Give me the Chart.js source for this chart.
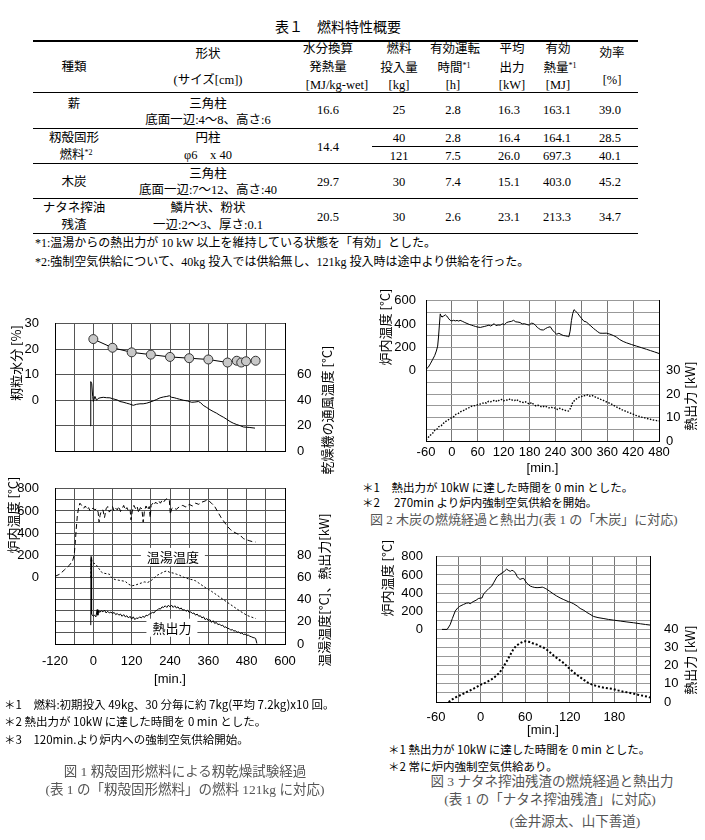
<!DOCTYPE html>
<html lang="ja">
<head>
<meta charset="utf-8">
<script src="https://cdn.jsdelivr.net/npm/chart.js@4.4.0/dist/chart.umd.min.js"></script>
<style>
  body { margin: 0; background: #fff; }
  #page { position: relative; width: 705px; height: 840px; overflow: hidden; color: #000; }
  .tb { font-family: "Liberation Serif", "Noto Sans CJK JP", serif; font-size: 12.5px; }
  .c { position: absolute; transform: translate(-50%, -50%); white-space: nowrap; line-height: 1; }
  .l { position: absolute; transform: translateY(-50%); white-space: nowrap; line-height: 1; }
  .rule { position: absolute; height: 0; border-top: 1.5px solid #000; }
  .note { font-family: "Noto Sans CJK JP", sans-serif; font-size: 11.5px; }
  .cap { font-family: "Liberation Serif", "Noto Sans CJK JP", serif; font-size: 13.5px; color: #555; }
  sup { font-size: 8px; vertical-align: 4px; }
  canvas { position: absolute; }
</style>
</head>
<body>
<div id="page">
  <!-- 表1 -->
  <div class="tb">
    <div class="l" style="left:275px;top:28px;font-size:14px">表１　燃料特性概要</div>
    <div class="rule" style="left:33px;width:605px;top:40px;border-top-width:2px"></div>
    <div class="rule" style="left:33px;width:605px;top:92px"></div>
    <div class="rule" style="left:33px;width:605px;top:128px"></div>
    <div class="rule" style="left:372px;width:266px;top:146px;border-top-width:1px"></div>
    <div class="rule" style="left:33px;width:605px;top:163px"></div>
    <div class="rule" style="left:33px;width:605px;top:198px"></div>
    <div class="rule" style="left:33px;width:605px;top:233px"></div>

    <div class="c" style="left:74px;top:67px">種類</div>
    <div class="c" style="left:208px;top:54px">形状</div>
    <div class="c" style="left:208px;top:80px">(サイズ[cm])</div>
    <div class="c" style="left:328px;top:49px">水分換算</div>
    <div class="c" style="left:328px;top:67px">発熱量</div>
    <div class="c" style="left:337px;top:85px">[MJ/kg-wet]</div>
    <div class="c" style="left:399px;top:49px">燃料</div>
    <div class="c" style="left:399px;top:68px">投入量</div>
    <div class="c" style="left:399px;top:85px">[kg]</div>
    <div class="c" style="left:455px;top:49px">有効運転</div>
    <div class="c" style="left:454px;top:68px">時間<sup>*1</sup></div>
    <div class="c" style="left:453px;top:85px">[h]</div>
    <div class="c" style="left:512px;top:49px">平均</div>
    <div class="c" style="left:512px;top:68px">出力</div>
    <div class="c" style="left:512px;top:85px">[kW]</div>
    <div class="c" style="left:558px;top:49px">有効</div>
    <div class="c" style="left:560px;top:68px">熱量<sup>*1</sup></div>
    <div class="c" style="left:558px;top:85px">[MJ]</div>
    <div class="c" style="left:612px;top:53px">効率</div>
    <div class="c" style="left:612px;top:80px">[%]</div>

    <div class="c" style="left:74px;top:104px">薪</div>
    <div class="c" style="left:208px;top:104px">三角柱</div>
    <div class="c" style="left:208px;top:120px">底面一辺:4～8、高さ:6</div>
    <div class="c" style="left:328px;top:110px">16.6</div>
    <div class="c" style="left:399px;top:110px">25</div>
    <div class="c" style="left:453px;top:110px">2.8</div>
    <div class="c" style="left:509px;top:110px">16.3</div>
    <div class="c" style="left:557px;top:110px">163.1</div>
    <div class="c" style="left:610px;top:110px">39.0</div>

    <div class="c" style="left:74px;top:138px">籾殻固形</div>
    <div class="c" style="left:76px;top:155px">燃料<sup>*2</sup></div>
    <div class="c" style="left:208px;top:138px">円柱</div>
    <div class="c" style="left:208px;top:155px">φ6　x 40</div>
    <div class="c" style="left:328px;top:147px">14.4</div>
    <div class="c" style="left:399px;top:138px">40</div>
    <div class="c" style="left:453px;top:138px">2.8</div>
    <div class="c" style="left:509px;top:138px">16.4</div>
    <div class="c" style="left:557px;top:138px">164.1</div>
    <div class="c" style="left:610px;top:138px">28.5</div>
    <div class="c" style="left:399px;top:156px">121</div>
    <div class="c" style="left:453px;top:156px">7.5</div>
    <div class="c" style="left:509px;top:156px">26.0</div>
    <div class="c" style="left:557px;top:156px">697.3</div>
    <div class="c" style="left:610px;top:156px">40.1</div>

    <div class="c" style="left:74px;top:182px">木炭</div>
    <div class="c" style="left:208px;top:174px">三角柱</div>
    <div class="c" style="left:208px;top:190px">底面一辺:7～12、高さ:40</div>
    <div class="c" style="left:328px;top:182px">29.7</div>
    <div class="c" style="left:399px;top:182px">30</div>
    <div class="c" style="left:453px;top:182px">7.4</div>
    <div class="c" style="left:509px;top:182px">15.1</div>
    <div class="c" style="left:557px;top:182px">403.0</div>
    <div class="c" style="left:610px;top:182px">45.2</div>

    <div class="c" style="left:74px;top:208px">ナタネ搾油</div>
    <div class="c" style="left:74px;top:225px">残渣</div>
    <div class="c" style="left:208px;top:208px">鱗片状、粉状</div>
    <div class="c" style="left:208px;top:225px">一辺:2～3、厚さ:0.1</div>
    <div class="c" style="left:328px;top:217px">20.5</div>
    <div class="c" style="left:399px;top:217px">30</div>
    <div class="c" style="left:453px;top:217px">2.6</div>
    <div class="c" style="left:509px;top:217px">23.1</div>
    <div class="c" style="left:557px;top:217px">213.3</div>
    <div class="c" style="left:610px;top:217px">34.7</div>

    <div class="l" style="left:35px;top:243px;font-size:12px">*1:温湯からの熱出力が 10 kW 以上を維持している状態を「有効」とした。</div>
    <div class="l" style="left:35px;top:262px;font-size:12px">*2:強制空気供給について、40kg 投入では供給無し、121kg 投入時は途中より供給を行った。</div>
  </div>

  <canvas id="c1a" width="345" height="175" style="left:0;top:300px"></canvas>
  <canvas id="c1b" width="345" height="222" style="left:0;top:465px"></canvas>
  <canvas id="c2" width="345" height="193" style="left:360px;top:283px"></canvas>
  <canvas id="c3" width="345" height="203" style="left:360px;top:535px"></canvas>

  <div class="note">
    <div class="l" style="left:4px;top:705px">＊1　燃料:初期投入 49kg、30 分毎に約 7kg(平均 7.2kg)x10 回。</div>
    <div class="l" style="left:4px;top:722px">＊2  熱出力が 10kW に達した時間を 0 min とした。</div>
    <div class="l" style="left:4px;top:740px">＊3　120min.より炉内への強制空気供給開始。</div>
    <div class="l" style="left:362px;top:488px">＊1　熱出力が 10kW に達した時間を 0 min とした。</div>
    <div class="l" style="left:362px;top:503px">＊2　 270min  より炉内強制空気供給を開始。</div>
    <div class="l" style="left:388px;top:750px">＊1  熱出力が 10kW に達した時間を 0 min とした。</div>
    <div class="l" style="left:388px;top:767px">＊2  常に炉内強制空気供給あり。</div>
  </div>
  <div class="cap">
    <div class="c" style="left:185px;top:772px">図 1  籾殻固形燃料による籾乾燥試験経過</div>
    <div class="c" style="left:185px;top:790px">(表 1 の「籾殻固形燃料」の燃料 121kg に対応)</div>
    <div class="l" style="left:370px;top:519px;font-size:13px">図 2 木炭の燃焼経過と熱出力(表 1 の「木炭」に対応)</div>
    <div class="c" style="left:552px;top:782px">図 3  ナタネ搾油残渣の燃焼経過と熱出力</div>
    <div class="c" style="left:550px;top:800px">(表 1 の「ナタネ搾油残渣」に対応)</div>
    <div class="c" style="left:575px;top:822px">(金井源太、山下善道)</div>
  </div>
</div>

<script>
// ---- 図1 上段: 籾粒水分 [%] と 乾燥機の通風温度 [°C]  ([min., 値])
const fig1Moist = [[0, 24], [60, 20.6], [120, 18.8], [180, 17.9], [240, 17.0], [300, 16.5],
  [360, 16.0], [420, 14.8], [449, 15.5], [463, 14.8], [478, 15.3], [508, 15.5]];
const fig1Air = [[-10, 20], [-8, 54.6], [-5, 53], [-2, 43], [0, 39], [5, 43], [10, 40], [15, 41.4],
  [21, 41.9], [31, 42.3], [41, 42], [52, 41.9], [60, 41.2], [68, 40.7], [75, 40.2], [83, 39],
  [93, 38.5], [104, 37.7], [114, 37], [125, 36], [135, 36.8], [146, 37.2], [156, 37.2], [167, 37.7],
  [178, 38.6], [188, 39.5], [198, 40.6], [209, 41.9], [220, 42.6], [230, 43], [238, 43.5], [245, 42.3],
  [253, 42], [261, 41.4], [270, 40.8], [282, 40], [295, 39.4], [308, 38.4], [318, 38.6], [329, 39],
  [336, 38], [344, 36], [355, 34.3], [365, 32.6], [375, 31.2], [386, 29.8], [396, 28.2], [407, 26.7],
  [418, 25], [428, 23.3], [438, 22], [449, 20.9], [460, 20], [470, 19], [480, 18.8], [490, 18.6],
  [500, 18.3], [506, 18.1]];

// ---- 図1 下段: 炉内温度 [°C], 温湯温度 [°C], 熱出力 [kW]
const fig1Furnace = [[-120, 10], [-105, 30], [-90, 70], [-75, 110], [-65, 150], [-60, 200], [-57, 300],
  [-54, 420], [-50, 560], [-46, 630], [-42, 670], [-38, 655], [-34, 640], [-30, 625], [-25, 645],
  [-20, 615], [-15, 630], [-10, 600], [-5, 620], [0, 625], [5, 610], [10, 620], [15, 590], [18, 500],
  [21, 560], [25, 600], [30, 610], [35, 540], [40, 620], [45, 640], [50, 590], [55, 610], [60, 640],
  [65, 600], [70, 625], [75, 610], [80, 640], [85, 595], [90, 620], [95, 650], [100, 610], [105, 630],
  [110, 600], [115, 615], [118, 520], [122, 600], [127, 650], [132, 620], [137, 640], [142, 585],
  [147, 630], [152, 620], [156, 500], [160, 600], [165, 645], [170, 610], [175, 640], [178, 540],
  [181, 650], [186, 670], [190, 655], [195, 680], [200, 665], [205, 690], [210, 670], [215, 695],
  [220, 680], [225, 700], [230, 710], [235, 690], [238, 695], [241, 570], [245, 620], [250, 630],
  [260, 615], [270, 640], [280, 650], [290, 635], [300, 660], [310, 645], [320, 670], [330, 660],
  [340, 680], [350, 690], [356, 700], [362, 690], [370, 670], [380, 640], [390, 590], [400, 540],
  [410, 500], [420, 460], [430, 430], [440, 410], [450, 395], [460, 380], [470, 350], [480, 340],
  [490, 330], [500, 322], [508, 320]];
const fig1Water = [[-8, 60], [-7, 79], [-4, 74], [0, 73], [5, 72.5], [10, 71], [15, 69], [20, 67],
  [25, 65], [30, 64], [40, 63.5], [50, 63], [55, 61], [60, 59], [70, 58], [80, 57.5], [90, 57],
  [100, 56.5], [110, 54], [120, 52.5], [130, 53], [140, 54], [150, 55], [160, 56], [170, 55.5],
  [180, 57], [190, 59.5], [200, 62], [210, 63.5], [220, 65], [230, 66], [240, 64.5], [250, 64],
  [260, 63], [270, 62], [280, 60.5], [290, 59.5], [300, 58.5], [310, 58], [320, 57], [330, 55],
  [340, 53], [350, 51], [360, 49.5], [370, 47.5], [380, 45.5], [390, 43.5], [400, 41.5], [410, 39.5],
  [420, 37.5], [430, 35.5], [440, 33.5], [450, 31.5], [460, 29.5], [470, 27.8], [480, 26], [490, 24.8],
  [500, 23.8], [508, 23]];
const fig1Heat = [[-8, 17], [-7, 78], [-6, 40], [-5, 27], [0, 25], [4, 26], [8, 24.5], [12, 31], [14, 26],
  [17, 30], [20, 28.5], [25, 30], [30, 29], [35, 30.5], [40, 28], [45, 29.5], [50, 28], [55, 28.8],
  [60, 27.5], [65, 28.5], [70, 26.5], [75, 27.5], [80, 26], [85, 27], [90, 25], [95, 26.5], [100, 24.5],
  [105, 25.5], [110, 23.5], [115, 25], [120, 22.5], [125, 24.5], [130, 22], [135, 23.5], [140, 23],
  [145, 24.5], [150, 23.5], [155, 25], [160, 24], [165, 26], [170, 25.5], [175, 27], [180, 27.5],
  [185, 28.5], [190, 28], [195, 30], [200, 30.5], [205, 32], [210, 31.5], [215, 33.5], [220, 33],
  [225, 34.5], [230, 33], [235, 35], [240, 33.5], [245, 35], [250, 33], [255, 34.5], [260, 32.5],
  [265, 33.5], [270, 31.5], [275, 32.5], [280, 30.5], [285, 31], [290, 29.5], [295, 30.5], [300, 28.5],
  [305, 29], [310, 27.5], [315, 28], [320, 26], [325, 27], [330, 25], [335, 25.5], [340, 23.5],
  [345, 24.5], [350, 22], [355, 23], [360, 21], [365, 22], [370, 19.5], [375, 21], [380, 18.5],
  [385, 19.5], [390, 17.5], [395, 18], [400, 16.5], [405, 17], [410, 15], [415, 15.5], [420, 14],
  [425, 14], [430, 12.5], [435, 13], [440, 11.7], [445, 12], [450, 10.5], [455, 11], [460, 9.5],
  [465, 10], [470, 8.5], [475, 9], [480, 7.8], [485, 8], [490, 7], [495, 6.5], [500, 5.8], [505, 5.5],
  [508, 5], [512, 0.5]];

// ---- 図2 木炭: 炉内温度 [°C], 熱出力 [kW]
const fig2Furnace = [[-60, 15], [-55, 30], [-50, 60], [-45, 95], [-40, 130], [-36, 170], [-33, 212],
  [-31, 290], [-29, 392], [-27, 488], [-25, 470], [-23, 461], [-19, 470], [-15, 480], [-12, 470],
  [-10, 461], [-7, 445], [-4, 433], [0, 428], [4, 433], [8, 428], [12, 432], [16, 426], [19, 433],
  [24, 425], [30, 414], [35, 406], [40, 398], [45, 392], [50, 386], [55, 380], [60, 375], [66, 372],
  [70, 376], [75, 380], [81, 386], [86, 392], [90, 384], [95, 396], [98, 404], [102, 388], [107, 393],
  [112, 392], [117, 402], [122, 396], [127, 414], [132, 420], [138, 424], [143, 433], [148, 420],
  [153, 418], [158, 414], [163, 402], [168, 404], [174, 397], [179, 392], [184, 408], [189, 406],
  [194, 390], [198, 372], [201, 364], [206, 352], [212, 350], [217, 362], [222, 372], [228, 378],
  [233, 350], [238, 330], [243, 314], [248, 322], [253, 312], [258, 303], [263, 300], [268, 296],
  [271, 292], [274, 340], [277, 430], [280, 490], [283, 524], [286, 515], [289, 502], [292, 490],
  [296, 470], [301, 447], [306, 425], [312, 419], [317, 400], [322, 385], [328, 364], [333, 350],
  [338, 335], [343, 323], [350, 322], [358, 323], [366, 315], [374, 303], [381, 290], [389, 268],
  [397, 252], [405, 240], [416, 226], [428, 212], [440, 198], [451, 185], [460, 174], [470, 162],
  [480, 149]];
const fig2Heat = [[-60, 0.5], [-55, 1.5], [-50, 2.5], [-45, 3.2], [-40, 4.5], [-35, 5], [-30, 6.2],
  [-25, 6.5], [-20, 7.5], [-15, 8.3], [-10, 8.8], [-5, 9.5], [0, 10], [5, 10.5], [10, 11.5], [15, 11.8],
  [20, 12.5], [25, 13], [30, 13.2], [35, 14], [40, 14.3], [45, 14.8], [50, 15], [55, 15.2], [60, 15.5],
  [65, 15.8], [70, 16], [75, 16.5], [80, 16.2], [85, 17], [90, 16.8], [95, 17.2], [100, 17.5],
  [105, 16.8], [110, 17.5], [115, 17.8], [120, 17.2], [125, 17.6], [130, 17.4], [135, 18], [140, 17.5],
  [145, 17.3], [150, 17.8], [155, 17], [160, 16.8], [165, 16.5], [170, 16.8], [175, 16.2], [180, 15.8],
  [185, 16.5], [190, 15.5], [195, 15], [200, 15.3], [205, 14.8], [210, 14.5], [215, 15], [220, 14.6],
  [225, 14.2], [230, 14.5], [235, 14], [240, 14.2], [245, 13.5], [250, 14], [255, 13.6], [260, 13.2],
  [265, 13], [270, 12.8], [275, 14], [280, 16.5], [285, 17.5], [290, 18.2], [295, 18.8], [300, 19],
  [305, 19.5], [310, 19.3], [315, 19.8], [320, 19.2], [325, 19.5], [330, 19], [335, 18.6], [340, 18.2],
  [345, 17.8], [350, 17.5], [355, 17], [360, 16.6], [365, 16.2], [370, 15.8], [375, 15.2], [380, 14.8],
  [385, 14.2], [390, 13.8], [395, 13.3], [400, 13], [405, 12.5], [410, 12.2], [415, 11.8], [420, 11.5],
  [425, 11], [430, 10.8], [435, 10.5], [440, 10.2], [445, 10], [450, 9.7], [455, 9.5], [460, 9.3],
  [465, 9], [470, 8.9], [475, 8.7], [480, 8.6]];

// ---- 図3 ナタネ搾油残渣: 炉内温度 [°C], 熱出力 [kW]
const fig3Furnace = [[-52, 0], [-45, 0], [-41, 51], [-38, 120], [-34, 204], [-31, 235], [-28, 255],
  [-23, 275], [-19, 289], [-16, 292], [-14, 283], [-12, 295], [-10, 306], [-6, 322], [-3, 340], [0, 345],
  [2, 347], [4, 391], [6, 405], [8, 425], [11, 450], [15, 477], [18, 520], [22, 579], [25, 600],
  [29, 623], [32, 640], [35, 664], [38, 648], [40, 640], [42, 650], [44, 647], [47, 620], [49, 585],
  [51, 565], [53, 551], [56, 560], [58, 562], [60, 535], [62, 511], [65, 490], [67, 477], [70, 468],
  [73, 462], [76, 460], [80, 462], [83, 466], [85, 460], [87, 452], [89, 443], [93, 420], [98, 391],
  [102, 370], [107, 347], [112, 328], [118, 306], [122, 295], [125, 283], [130, 258], [134, 231],
  [139, 210], [143, 187], [147, 168], [152, 143], [158, 130], [166, 119], [172, 110], [179, 102],
  [188, 92], [197, 82], [206, 73], [215, 62], [222, 54], [228, 48]];
const fig3Heat = [[-43, 0], [-38, 1.5], [-32, 2.9], [-25, 4.2], [-19, 5.4], [-12, 6.8], [-5, 8.3],
  [0, 9.5], [6, 10.5], [12, 11.8], [17, 13], [22, 14.8], [26, 16.4], [30, 19], [35, 22.3], [40, 26],
  [44, 29], [48, 31], [53, 32.4], [57, 33.2], [60, 33.5], [64, 33.2], [67, 33], [72, 32], [76, 31.6],
  [80, 30.8], [85, 29.9], [90, 28.5], [95, 26.8], [98, 25.7], [105, 23.5], [112, 21.4], [118, 19],
  [125, 16.4], [132, 14.2], [139, 12.2], [145, 10.5], [152, 9.3], [159, 8.5], [166, 7.9], [172, 7.5],
  [179, 7.1], [185, 6.4], [192, 5.7], [199, 5.2], [206, 4.6], [212, 4], [219, 3.4], [225, 2.9],
  [228, 2.5]];

// 軸タイトル・ラベル
const fig1TopTitles = ['籾粒水分 [%]', '乾燥機の通風温度 [°C]'];
const fig1BotTitles = ['炉内温度 [°C]', '温湯温度[°C]、熱出力[kW]'];
const fig1CurveLabels = ['温湯温度', '熱出力'];
const sideTitlesFig23 = ['炉内温度 [°C]', '熱出力 [kW]'];
const xTitle = '[min.]';

Chart.defaults.font.family = '"Liberation Sans", "Noto Sans CJK JP", sans-serif';
Chart.defaults.font.size = 13;
Chart.defaults.color = '#000';
Chart.defaults.animation = false;

const toXY = arr => arr.map(p => ({ x: p[0], y: p[1] }));

// 縦書きの軸タイトル（下から上へ読む）
const sideTitles = {
  id: 'sideTitles',
  afterDraw(chart, args, opts) {
    const ctx = chart.ctx;
    (opts.items || []).forEach(it => {
      ctx.save();
      ctx.translate(it.x, it.y);
      ctx.rotate(-Math.PI / 2);
      ctx.font = (it.size || 13) + 'px "Noto Sans CJK JP", sans-serif';
      ctx.fillStyle = '#000';
      ctx.textAlign = 'center';
      ctx.textBaseline = 'middle';
      ctx.fillText(it.text, 0, 0);
      ctx.restore();
    });
  }
};

// 白抜きの曲線ラベル
const boxLabels = {
  id: 'boxLabels',
  afterDatasetsDraw(chart, args, opts) {
    const { ctx, scales } = chart;
    (opts.items || []).forEach(it => {
      const x = scales.x.getPixelForValue(it.x);
      const y = scales[it.axis].getPixelForValue(it.y);
      ctx.save();
      ctx.font = '13px "Noto Sans CJK JP", sans-serif';
      const w = ctx.measureText(it.text).width;
      ctx.fillStyle = '#fff';
      ctx.fillRect(x - w / 2 - 6, y - 9, w + 12, 18);
      ctx.fillStyle = '#000';
      ctx.textAlign = 'center';
      ctx.textBaseline = 'middle';
      ctx.fillText(it.text, x, y);
      ctx.restore();
    });
  }
};

function yAxis(o) {
  return {
    position: o.pos, min: o.min, max: o.max,
    afterFit: s => { s.width = o.width; },
    ticks: { stepSize: o.step, padding: o.pad, autoSkip: false, callback: o.label },
    grid: { display: o.grid !== false, color: o.gridColor || '#666', drawTicks: false },
    border: { color: '#000' }
  };
}

function xAxis(o) {
  return {
    type: 'linear', min: o.min, max: o.max,
    afterFit: s => { s.height = o.height; },
    ticks: {
      stepSize: o.step, padding: o.pad || 0, autoSkip: false, maxRotation: 0, minRotation: 0,
      includeBounds: o.includeBounds !== false, display: o.showTicks !== false, callback: o.label
    },
    grid: { color: o.gridColor || '#666', drawTicks: false },
    border: { color: '#000' },
    title: { display: !!o.title, text: o.title, padding: 0 }
  };
}

function line(data, axis, opts) {
  return Object.assign({
    data: toXY(data), yAxisID: axis, borderColor: '#000', borderWidth: 1,
    pointRadius: 0, tension: 0, fill: false
  }, opts);
}

function makeChart(id, datasets, scales, top, pluginOpts) {
  return new Chart(document.getElementById(id), {
    type: 'line',
    data: { datasets },
    options: {
      responsive: false,
      devicePixelRatio: 1,
      layout: { padding: { top: top, left: 0, right: 0, bottom: 0 } },
      scales,
      plugins: Object.assign({ legend: { display: false }, tooltip: { enabled: false } }, pluginOpts)
    },
    plugins: [sideTitles, boxLabels]
  });
}

// 図1 上段
makeChart('c1a', [
  line(fig1Moist, 'yL', {
    pointRadius: 4.5, pointBackgroundColor: '#c8c8c8', pointBorderColor: '#333', pointBorderWidth: 1
  }),
  line(fig1Air, 'yR')
], {
  x: xAxis({ min: -120, max: 600, step: 60, height: 17, showTicks: false, gridColor: '#555' }),
  yL: yAxis({ pos: 'left', min: -20, max: 30, step: 10, width: 55, pad: 16, gridColor: '#555',
    label: v => (v >= 0 ? v : '') }),
  yR: yAxis({ pos: 'right', min: 0, max: 100, step: 20, width: 60, pad: 12, grid: false,
    label: v => (v <= 60 ? v : '') })
}, 15, {
  sideTitles: { items: [
    { text: fig1TopTitles[0], x: 16, y: 63, size: 13 },
    { text: fig1TopTitles[1], x: 327, y: 110, size: 13 }
  ] }
});

// 図1 下段
makeChart('c1b', [
  line(fig1Furnace, 'yL', { borderDash: [5, 3] }),
  line(fig1Water, 'yR', { borderDash: [2, 2] }),
  line(fig1Heat, 'yR')
], {
  x: xAxis({ min: -120, max: 600, step: 60, height: 43, pad: 10, title: xTitle, gridColor: '#555',
    label: v => (v % 120 === 0 ? v : '') }),
  yL: yAxis({ pos: 'left', min: -600, max: 800, step: 100, width: 55, pad: 16, gridColor: '#555',
    label: v => (v >= 0 && v % 200 === 0 ? v : '') }),
  yR: yAxis({ pos: 'right', min: 0, max: 140, step: 10, width: 60, pad: 12, grid: false,
    label: v => (v <= 80 && v % 20 === 0 ? v : '') })
}, 8, {
  sideTitles: { items: [
    { text: fig1BotTitles[0], x: 13, y: 50, size: 13 },
    { text: fig1BotTitles[1], x: 324, y: 125, size: 13 }
  ] },
  boxLabels: { items: [
    { text: fig1CurveLabels[0], x: 249, axis: 'yR', y: 78.6 },
    { text: fig1CurveLabels[1], x: 246, axis: 'yR', y: 14.7 }
  ] }
});

// 図2
makeChart('c2', [
  line(fig2Furnace, 'yL'),
  line(fig2Heat, 'yR', { borderDash: [1.5, 1.5], borderWidth: 1.4 })
], {
  x: xAxis({ min: -60, max: 480, step: 60, height: 35, pad: 4, title: xTitle, gridColor: '#777' }),
  yL: yAxis({ pos: 'left', min: -600, max: 600, step: 100, width: 66, pad: 10, gridColor: '#999',
    label: v => (v >= 0 && v % 200 === 0 ? v : '') }),
  yR: yAxis({ pos: 'right', min: 0, max: 60, step: 5, width: 46, pad: 7, grid: false,
    label: v => (v <= 30 && v % 10 === 0 ? v : '') })
}, 12, {
  sideTitles: { items: [
    { text: sideTitlesFig23[0], x: 25, y: 44, size: 13 },
    { text: sideTitlesFig23[1], x: 330, y: 113, size: 13 }
  ] }
});

// 図3
makeChart('c3', [
  line(fig3Furnace, 'yL'),
  line(fig3Heat, 'yR', { borderDash: [2, 2], borderWidth: 2 })
], {
  x: xAxis({ min: -60, max: 228, step: 30, height: 36, pad: 8, title: xTitle, gridColor: '#777',
    includeBounds: false, label: v => (v % 60 === 0 ? v : '') }),
  yL: yAxis({ pos: 'left', min: -800, max: 800, step: 100, width: 76, pad: 13, gridColor: '#999',
    label: v => (v >= 0 && v % 200 === 0 ? v : '') }),
  yR: yAxis({ pos: 'right', min: 0, max: 80, step: 5, width: 55, pad: 14, grid: false,
    label: v => (v <= 40 && v % 10 === 0 ? v : '') })
}, 10, {
  sideTitles: { items: [
    { text: sideTitlesFig23[0], x: 27, y: 43, size: 13 },
    { text: sideTitlesFig23[1], x: 330, y: 125, size: 13 }
  ] }
});
</script>
</body>
</html>
